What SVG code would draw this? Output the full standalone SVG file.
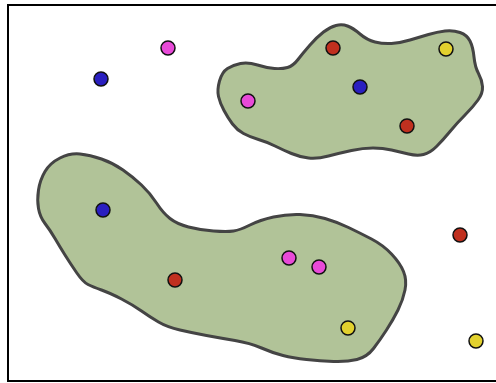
<svg xmlns="http://www.w3.org/2000/svg" width="496" height="383" viewBox="0 0 496 383">
<style>
.blob{fill:#b1c398;stroke:#444444;stroke-width:3;stroke-linejoin:round}
.dot{stroke:#111111;stroke-width:1.5}
.r{fill:#c0301f}.b{fill:#2a1fc0}.p{fill:#e84ad8}.y{fill:#e2d12e}
</style>
<rect x="0" y="0" width="496" height="383" fill="#ffffff"/>
<rect id="frame" x="8" y="5" width="492" height="376" fill="none" stroke="#000000" stroke-width="2"/>
<g id="region-upper">
<path class="blob" d="M218.5,96.5 Q217,90 219.5,81 Q222,72 227.5,68.5 Q233,65 240.5,63.5 Q248,62 257.5,65 Q267,68 274.5,68.5 Q282,69 287.5,67.5 Q293,66 298,59.5 Q303,53 310,45 Q317,37 323.5,32 Q330,27 336,25.5 Q342,24 347.5,26 Q353,28 360,34 Q367,40 375,42 Q383,44 391.5,43.5 Q400,43 410,40 Q420,37 428.5,34.5 Q437,32 445,31 Q453,30 460,32.5 Q467,35 470,41 Q473,47 474,57 Q475,67 478.5,73.5 Q482,80 482.5,86.5 Q483,93 478,100 Q473,107 465,115 Q457,123 450,131.5 Q443,140 436.5,146.5 Q430,153 423.5,154.5 Q417,156 408.5,154 Q400,152 391.5,150 Q383,148 373,148 Q363,148 351.5,150.5 Q340,153 328.5,156 Q317,159 308.5,158 Q300,157 291.5,153.5 Q283,150 275,146 Q267,142 258.5,139.5 Q250,137 243.5,133.5 Q237,130 232.5,124 Q228,118 224,110.5 Q220,103 218.5,96.5 Z"/>
</g>
<g id="region-lower">
<path class="blob" d="M38.5,208.5 Q37,200 38.5,190 Q40,180 45,171.5 Q50,163 60,158 Q70,153 80,154 Q90,155 101.5,159 Q113,163 123,170 Q133,177 141.5,185 Q150,193 156.5,203 Q163,213 170,218.5 Q177,224 188.5,227 Q200,230 213.5,231 Q227,232 233.5,231 Q240,230 250,225 Q260,220 273.5,217 Q287,214 300,214.5 Q313,215 325,218.5 Q337,222 348.5,227.5 Q360,233 371.5,239 Q383,245 391.5,254 Q400,263 403.5,271.5 Q407,280 405,290 Q403,300 398,310 Q393,320 386.5,330 Q380,340 373.5,348.5 Q367,357 357,359.5 Q347,362 333.5,361.5 Q320,361 306.5,359.5 Q293,358 283,355.5 Q273,353 261.5,348 Q250,343 235,340.5 Q220,338 206.5,335.5 Q193,333 180,330 Q167,327 158.5,322 Q150,317 141.5,311 Q133,305 121.5,299 Q110,293 101.5,290 Q93,287 88,284.5 Q83,282 76.5,272.5 Q70,263 65,255 Q60,247 55,238.5 Q50,230 45,223.5 Q40,217 38.5,208.5 Z"/>
</g>
<g id="dots">
<circle id="d1" class="dot p" cx="168" cy="48" r="7"/>
<circle id="d2" class="dot b" cx="101" cy="79" r="7"/>
<circle id="d3" class="dot r" cx="333" cy="48" r="7"/>
<circle id="d4" class="dot y" cx="446" cy="49" r="7"/>
<circle id="d5" class="dot b" cx="360" cy="87" r="7"/>
<circle id="d6" class="dot p" cx="248" cy="101" r="7"/>
<circle id="d7" class="dot r" cx="407" cy="126" r="7"/>
<circle id="d8" class="dot b" cx="103" cy="210" r="7"/>
<circle id="d9" class="dot r" cx="175" cy="280" r="7"/>
<circle id="d10" class="dot p" cx="289" cy="258" r="7"/>
<circle id="d11" class="dot p" cx="319" cy="267" r="7"/>
<circle id="d12" class="dot y" cx="348" cy="328" r="7"/>
<circle id="d13" class="dot r" cx="460" cy="235" r="7"/>
<circle id="d14" class="dot y" cx="476" cy="341" r="7"/>
</g>
</svg>
